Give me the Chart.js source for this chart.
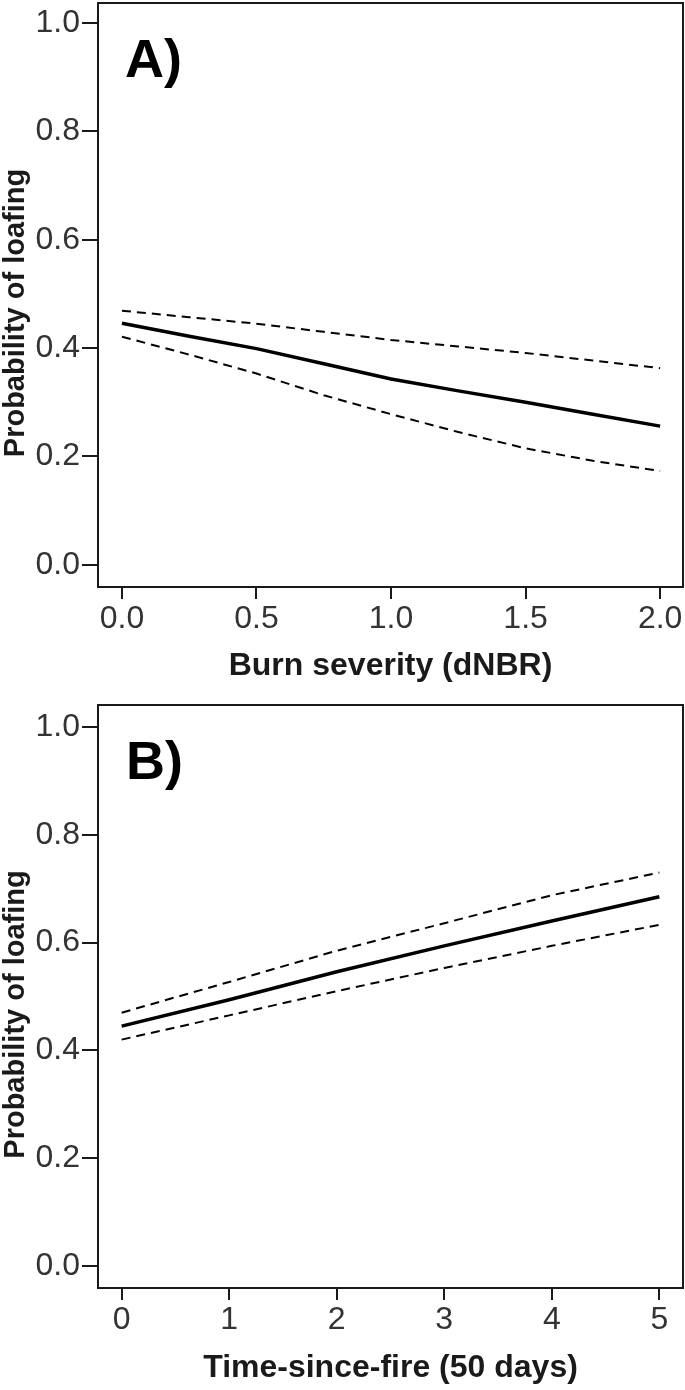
<!DOCTYPE html>
<html>
<head>
<meta charset="utf-8">
<script src="https://cdn.jsdelivr.net/npm/chart.js@4"></script>
<style>
    body { margin: 0; background: #fff; }
    .panel { width: 685px; height: 695px; }
    canvas { display: block; }
</style>
</head>
<body>
<div class="panel"><canvas id="burn-chart" width="685" height="695"></canvas></div>
<div class="panel"><canvas id="time-chart" width="685" height="695"></canvas></div>
<script>
// values
const burnX = [0, 0.25, 0.5, 0.75, 1.0, 1.25, 1.5, 1.75, 2.0];
const burnFit = [0.446, 0.422, 0.399, 0.371, 0.343, 0.321, 0.300, 0.278, 0.256];
const burnUpper = [0.469, 0.457, 0.445, 0.430, 0.415, 0.403, 0.391, 0.377, 0.363];
const burnLower = [0.421, 0.388, 0.353, 0.313, 0.278, 0.245, 0.215, 0.192, 0.173];
const burnTicks = [0, 0.5, 1.0, 1.5, 2.0];

const timeX = [0, 1, 2, 3, 4, 5];
const timeFit = [0.445, 0.494, 0.546, 0.594, 0.640, 0.685];
const timeUpper = [0.470, 0.527, 0.585, 0.636, 0.688, 0.730];
const timeLower = [0.420, 0.465, 0.510, 0.553, 0.594, 0.633];
const timeTicks = [0, 1, 2, 3, 4, 5];

const probTicks = [0, 0.2, 0.4, 0.6, 0.8, 1.0];
const yTitle = 'Probability of loafing';

const INK = '#1a1a1a';
const FONT = '"Liberation Sans", Arial, sans-serif';

//draws the closed box round the plot, the panel letter and the y title
//(the y title sits a bit below the middle of the box in the original, so it is drawn here)
const framePlugin = {
    id: 'frame',
    afterDraw(chart, args, opts) {
        const {ctx, chartArea: a} = chart;
        ctx.save();
        ctx.strokeStyle = INK;
        ctx.lineWidth = 2;
        ctx.strokeRect(a.left, a.top, a.right - a.left, a.bottom - a.top);

        ctx.fillStyle = '#000';
        ctx.font = `bold 54px ${FONT}`;
        ctx.textBaseline = 'alphabetic';
        ctx.fillText(opts.label, a.left + opts.dx, a.top + 74);

        ctx.fillStyle = INK;
        ctx.font = `bold 29px ${FONT}`;
        ctx.textAlign = 'center';
        ctx.textBaseline = 'middle';
        ctx.translate(16, (a.top + a.bottom) / 2 + 18);
        ctx.rotate(-Math.PI / 2);
        ctx.fillText(yTitle, 0, 0);
        ctx.restore();
    }
};

function toPoints(xs, ys) {
    return xs.map((x, i) => ({x: x, y: ys[i]}));
}

function makePanel(id, cfg) {
    const ctx = document.getElementById(id).getContext('2d');
    return new Chart(ctx, {
        type: 'line',
        data: {
            datasets: [
                {data: toPoints(cfg.xs, cfg.upper), borderColor: '#000', borderWidth: 2, borderDash: [9, 6]},
                {data: toPoints(cfg.xs, cfg.lower), borderColor: '#000', borderWidth: 2, borderDash: [9, 6]},
                {data: toPoints(cfg.xs, cfg.fit), borderColor: '#000', borderWidth: 3.5}
            ]
        },
        options: {
            responsive: false,
            animation: false,
            events: [],
            elements: {point: {radius: 0}, line: {tension: 0}},
            layout: {padding: {top: cfg.padTop, right: 2, left: 0, bottom: 0}},
            plugins: {
                legend: {display: false},
                tooltip: {enabled: false},
                frame: {label: cfg.label, dx: cfg.labelDx}
            },
            scales: {
                x: {
                    type: 'linear',
                    min: cfg.xMin,
                    max: cfg.xMax,
                    afterBuildTicks: axis => { axis.ticks = cfg.xTicks.map(v => ({value: v})); },
                    afterFit: axis => {
                        axis.height = cfg.xAxisHeight;
                        axis.paddingLeft = 0;
                        axis.paddingRight = 0;
                    },
                    grid: {drawOnChartArea: false, drawTicks: true, tickLength: 12, color: INK, lineWidth: 2},
                    border: {display: true, color: INK, width: 2},
                    ticks: {
                        padding: 1,
                        color: '#333',
                        font: {family: FONT, size: 32},
                        maxRotation: 0,
                        callback: v => Number(v).toFixed(cfg.decimals)
                    },
                    title: {
                        display: true,
                        text: cfg.xTitle,
                        color: INK,
                        font: {family: FONT, size: 32, weight: 'bold'},
                        padding: {top: 0, bottom: cfg.titlePad}
                    }
                },
                y: {
                    type: 'linear',
                    min: -0.041,
                    max: cfg.yMax,
                    afterBuildTicks: axis => { axis.ticks = probTicks.map(v => ({value: v})); },
                    afterFit: axis => {
                        axis.width = 98;
                        axis.paddingTop = 0;
                        axis.paddingBottom = 0;
                    },
                    grid: {drawOnChartArea: false, drawTicks: true, tickLength: 16, color: INK, lineWidth: 2},
                    border: {display: true, color: INK, width: 2},
                    ticks: {
                        padding: 2,
                        color: '#333',
                        font: {family: FONT, size: 32},
                        callback: v => Number(v).toFixed(1)
                    }
                }
            }
        },
        plugins: [framePlugin]
    });
}

makePanel('burn-chart', {
    xs: burnX, fit: burnFit, upper: burnUpper, lower: burnLower,
    xTicks: burnTicks, decimals: 1, xMin: -0.089, xMax: 2.085, yMax: 1.037,
    xTitle: 'Burn severity (dNBR)', label: 'A)', labelDx: 27,
    padTop: 3, xAxisHeight: 108, titlePad: 10
});

makePanel('time-chart', {
    xs: timeX, fit: timeFit, upper: timeUpper, lower: timeLower,
    xTicks: timeTicks, decimals: 0, xMin: -0.22, xMax: 5.22, yMax: 1.041,
    xTitle: 'Time-since-fire (50 days)', label: 'B)', labelDx: 28,
    padTop: 10, xAxisHeight: 102, titlePad: 3
});
</script>
</body>
</html>
